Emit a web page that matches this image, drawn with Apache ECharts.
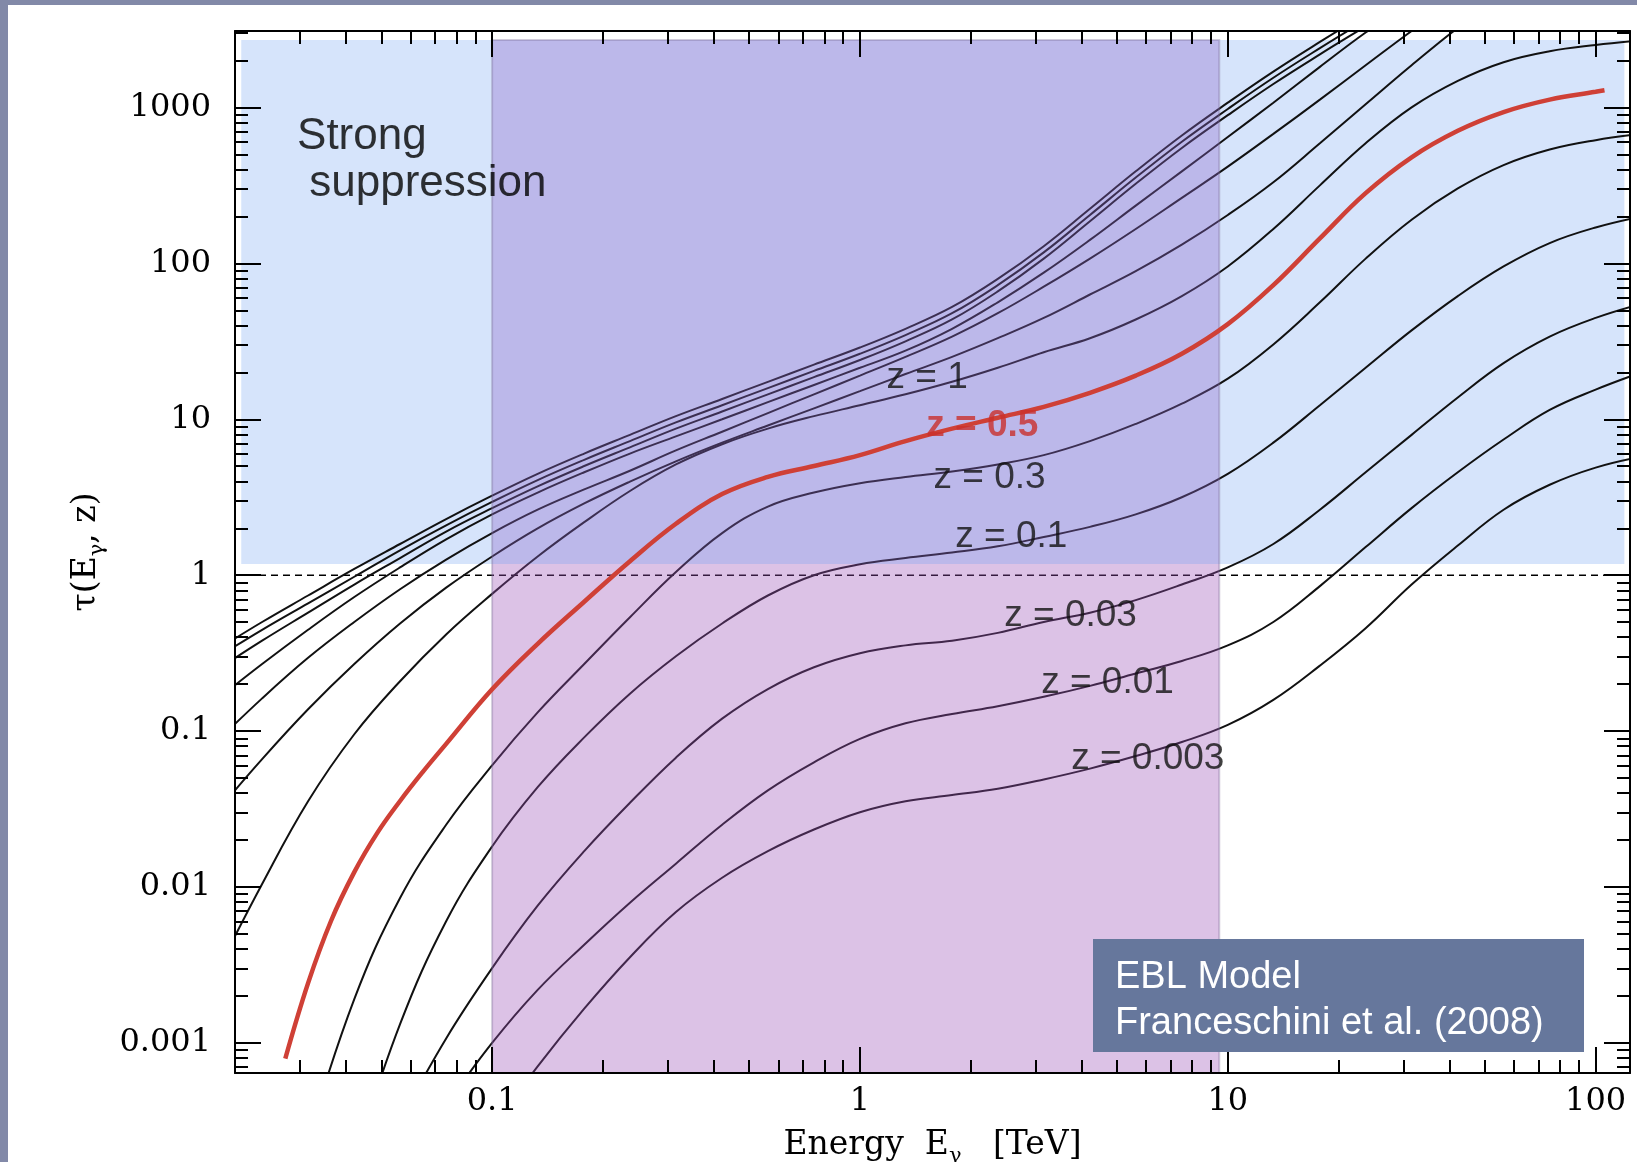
<!DOCTYPE html>
<html lang="en">
<head>
<meta charset="utf-8">
<title>Gamma-ray optical depth τ(E, z)</title>
<script src="https://cdn.jsdelivr.net/npm/echarts@6.0.0/dist/echarts.min.js"></script>
<style>
  html, body { margin: 0; padding: 0; width: 1637px; height: 1162px; overflow: hidden; background: #8289a8; }
  #chart { position: absolute; left: 8px; top: 5px; width: 1629px; height: 1157px; background: #ffffff; }
</style>
</head>
<body>
<div id="chart"></div>
<script>
// ---- axis ranges ----
const X_MIN = 0.02, X_MAX = 124;          // photon energy, TeV
const Y_MIN = 0.000642, Y_MAX = 3090;     // optical depth

// ---- tick labels ----
const xMajorTicks = [0.1, 1, 10, 100];
const yMajorTicks = [0.001, 0.01, 0.1, 1, 10, 100, 1000];

// ---- sampled photon energies (TeV) ----
const energy = [0.0178, 0.0237, 0.0316, 0.0422, 0.0562, 0.075, 0.1, 0.133, 0.178, 0.237, 0.316, 0.422, 0.562, 0.75,
                1, 1.33, 1.78, 2.37, 3.16, 4.22, 5.62, 7.5, 10, 13.3, 17.8, 23.7, 31.6, 42.2, 56.2, 75, 100, 133];

// ---- optical depth tau(E, z) for each source redshift (null = no point) ----
const tauZ0_003 = [null, null, null, null, null, null,
  0.000282, 0.000708, 0.00166, 0.00355, 0.00692, 0.01148, 0.017, 0.0234, 0.0302, 0.0355, 0.0389, 0.0427, 0.049, 0.0575,
  0.0692, 0.0851, 0.1096, 0.1585, 0.263, 0.457, 0.871, 1.549, 2.63, 3.802, 4.898, 5.754];
const tauZ0_01 = [null, null, null, null, null,
  0.000398, 0.001, 0.00219, 0.00427, 0.00794, 0.01413, 0.0251, 0.0417, 0.0631, 0.0891, 0.1122, 0.1288, 0.1445, 0.166,
  0.195, 0.2344, 0.2818, 0.3548, 0.501, 0.851, 1.514, 2.692, 4.571, 7.413, 11.48, 15.49, 19.95];
const tauZ0_03 = [null, null, null, null,
  0.000316, 0.00107, 0.00302, 0.00759, 0.017, 0.0347, 0.0676, 0.1202, 0.1862, 0.257, 0.3162, 0.3548, 0.38, 0.4266,
  0.501, 0.575, 0.692, 0.871, 1.122, 1.585, 2.63, 4.571, 7.943, 13.8, 22.91, 33.88, 44.67, 54.95];
const tauZ0_1 = [null, null, null,
  0.000178, 0.00132, 0.00603, 0.0182, 0.0437, 0.0912, 0.1738, 0.302, 0.49, 0.741, 1.0, 1.175, 1.288, 1.396, 1.531,
  1.758, 2.042, 2.455, 3.162, 4.467, 7.079, 12.3, 21.38, 37.15, 61.66, 95.5, 134.9, 169.8, 199.5];
const tauZ0_3 = [null, null,
  0.00024, 0.00191, 0.00851, 0.0251, 0.0603, 0.1318, 0.2692, 0.537, 1.047, 1.862, 2.754, 3.388, 3.89, 4.266, 4.624,
  5.129, 5.888, 7.244, 9.333, 12.59, 18.2, 30.2, 56.23, 107.2, 190.5, 302.0, 426.6, 537.0, 616.6, 676.1];
const tauZ0_7 = [0.00282, 0.01047, 0.0355, 0.0955, 0.209, 0.417, 0.759, 1.318, 2.188, 3.467, 5.129, 6.918, 8.71, 10.47,
  12.3, 14.45, 17.38, 21.38, 26.92, 33.11, 43.65, 61.66, 95.5, 166.0, 316.2, 588.8, 1000, 1479, 1950, 2291, 2512, 2692];
const tauZ1 = [0.0302, 0.0661, 0.138, 0.2692, 0.4898, 0.8318, 1.318, 1.995, 2.884, 3.981, 5.37, 7.079, 9.12, 11.75,
  15.14, 19.5, 25.12, 33.11, 44.67, 63.1, 89.13, 131.8, 204.2, 331.1, 588.8, 1047, 1862, 3236, 5248, null, null, null];
const tauZ1_5 = [0.0851, 0.1622, 0.2951, 0.501, 0.8128, 1.259, 1.862, 2.63, 3.548, 4.677, 6.31, 8.318, 10.96, 14.45,
  19.05, 25.12, 33.88, 47.86, 70.79, 107.2, 166.0, 263.0, 416.9, 676.1, 1122, 1862, 3090, 5012, null, null, null, null];
const tauZ2 = [0.1585, 0.2692, 0.4467, 0.7244, 1.122, 1.698, 2.455, 3.388, 4.571, 6.026, 7.762, 10.0, 12.88, 16.6,
  21.38, 27.54, 38.02, 56.23, 87.1, 141.3, 234.4, 389.0, 645.7, 1072, 1820, 3020, 4786, null, null, null, null, null];
const tauZ2_5 = [0.2455, 0.3802, 0.5754, 0.871, 1.288, 1.905, 2.692, 3.715, 5.012, 6.607, 8.71, 11.22, 14.45, 18.62,
  23.99, 31.62, 43.65, 66.07, 107.2, 186.2, 323.6, 549.5, 891.3, 1413, 2188, 3311, 5012, null, null, null, null, null];
const tauZ3 = [0.2951, 0.4467, 0.6607, 0.9772, 1.445, 2.089, 2.951, 4.074, 5.495, 7.244, 9.55, 12.3, 15.85, 20.42,
  26.3, 34.67, 47.86, 72.44, 117.5, 204.2, 354.8, 602.6, 977.2, 1549, 2399, 3631, 5495, null, null, null, null, null];
const tauZ4 = [0.3311, 0.501, 0.741, 1.096, 1.585, 2.291, 3.236, 4.467, 6.026, 7.943, 10.47, 13.49, 17.38, 22.39,
  28.84, 38.02, 52.48, 79.43, 128.8, 223.9, 389.0, 660.7, 1072, 1698, 2630, 3981, 6026, null, null, null, null, null];

// highlighted z = 0.5 curve, sampled on its own energies
const energyZ0_5 = [0.0274, 0.0316, 0.0365, 0.0422, 0.0487, 0.0562, 0.0649, 0.075, 0.1, 0.133, 0.178, 0.237, 0.316,
  0.422, 0.562, 0.75, 1, 1.33, 1.78, 2.37, 3.16, 4.22, 5.62, 7.5, 10, 13.3, 17.8, 23.7, 31.6, 42.2, 56.2, 75, 100, 105.7];
const tauZ0_5 = [0.000794, 0.00242, 0.00608, 0.01247, 0.02218, 0.03565, 0.055, 0.0828, 0.1854, 0.3631, 0.6761, 1.23,
  2.138, 3.311, 4.266, 5.012, 5.888, 7.244, 8.71, 10.23, 12.02, 14.79, 19.05, 26.3, 40.74, 72.44, 144.5, 281.8, 478.6,
  707.9, 933.3, 1122, 1259, 1288];

// tau = 1 reference level
const unitDepth = 1;

// shaded regions: [E from, E to, tau from, tau to]
const suppressionRegion = [0.0208, 119.7, 1.18, 2710];
const bandEnergy = [0.1, 9.48];

// curve annotations: [text, E, tau] (left edge, vertical centre)
const curveLabels = [
  ['z = 1', 1.177, 18.4],
  ['z = 0.5', 1.51, 9.06],
  ['z = 0.3', 1.58, 4.2],
  ['z = 0.1', 1.81, 1.76],
  ['z = 0.03', 2.46, 0.547],
  ['z = 0.01', 3.10, 0.204],
  ['z = 0.003', 3.74, 0.0662]
];
const regionLabel = ['Strong\n suppression', 0.0294, 457];

// ---------------------------------------------------------------
const SERIF = '"DejaVu Serif", serif';
const SANS = '"Liberation Sans", Arial, sans-serif';
const fmt = v => String(+(+v).toPrecision(3));

function minorTicks(lo, hi) {
  const out = [];
  for (let p = -4; p <= 3; p++) {
    for (let k = 2; k <= 9; k++) {
      const v = +(k * Math.pow(10, p)).toPrecision(3);
      if (v > lo && v < hi) out.push(v);
    }
  }
  return out;
}
const xMinorTicks = minorTicks(X_MIN, X_MAX);
const yMinorTicks = minorTicks(Y_MIN, Y_MAX);

function pairs(xs, ys) {
  const out = [];
  xs.forEach((x, i) => { if (ys[i] != null) out.push([x, ys[i]]); });
  return out;
}

const tickStyle = { color: '#000', width: 2 };
function axis(dim, position, major, showLine, extra) {
  const isX = dim === 'x';
  return Object.assign({
    type: 'log',
    logBase: 10,
    position: position,
    min: isX ? X_MIN : Y_MIN,
    max: isX ? X_MAX : Y_MAX,
    z: 6,
    silent: true,
    axisLine: { show: showLine, onZero: false, lineStyle: { color: '#000', width: 2 } },
    axisTick: {
      show: true, inside: true,
      length: major ? 26 : 13,
      customValues: major ? (isX ? xMajorTicks : yMajorTicks) : (isX ? xMinorTicks : yMinorTicks),
      lineStyle: tickStyle
    },
    minorTick: { show: false },
    axisLabel: { show: false },
    splitLine: { show: false },
    axisPointer: { show: false }
  }, extra || {});
}

const nameStyle = {
  color: '#000', fontFamily: SERIF, fontSize: 33, lineHeight: 44,
  rich: { sub: { color: '#000', fontFamily: SERIF, fontSize: 21, lineHeight: 21, verticalAlign: 'bottom' } }
};

const xAxes = [
  axis('x', 'bottom', true, true, {
    axisLabel: { show: true, customValues: xMajorTicks, formatter: fmt, margin: 13, color: '#000', fontFamily: SERIF, fontSize: 32 },
    name: 'Energy  E{sub|γ}   [TeV]',
    nameLocation: 'middle',
    nameGap: 50,
    nameTextStyle: nameStyle
  }),
  axis('x', 'bottom', false, false),
  axis('x', 'top', true, true),
  axis('x', 'top', false, false)
];
const yAxes = [
  axis('y', 'left', true, true, {
    axisLabel: { show: true, customValues: yMajorTicks, formatter: fmt, margin: 24, color: '#000', fontFamily: SERIF, fontSize: 32 },
    name: 'τ(E{sub|γ}, z)',
    nameLocation: 'middle',
    nameGap: 126,
    nameTextStyle: nameStyle
  }),
  axis('y', 'left', false, false),
  axis('y', 'right', true, true),
  axis('y', 'right', false, false)
];

function rectSeries(name, rect, style, z) {
  return {
    type: 'custom', name: name, xAxisIndex: 0, yAxisIndex: 0, z: z, silent: true,
    animation: false,
    data: [rect],
    encode: { x: [0, 1], y: [2, 3] },
    renderItem: function (params, api) {
      const a = api.coord([api.value(0), api.value(3)]);
      const b = api.coord([api.value(1), api.value(2)]);
      return {
        type: 'rect',
        shape: { x: a[0], y: a[1], width: b[0] - a[0], height: b[1] - a[1] },
        style: style
      };
    }
  };
}

function curve(name, xs, ys, color, width, z) {
  return {
    type: 'line', name: name, xAxisIndex: 0, yAxisIndex: 0, z: z,
    data: pairs(xs, ys),
    symbol: 'none', showSymbol: false,
    smooth: 0.4,
    clip: true,
    silent: true,
    animation: false,
    lineStyle: { color: color, width: width }
  };
}

const blackCurves = [
  ['z=0.003', tauZ0_003], ['z=0.01', tauZ0_01], ['z=0.03', tauZ0_03], ['z=0.1', tauZ0_1],
  ['z=0.3', tauZ0_3], ['z=0.7', tauZ0_7], ['z=1', tauZ1], ['z=1.5', tauZ1_5],
  ['z=2', tauZ2], ['z=2.5', tauZ2_5], ['z=3', tauZ3], ['z=4', tauZ4]
];

const series = [];
// light-blue "strong suppression" region (beneath the curves)
series.push(rectSeries('suppression', suppressionRegion, { fill: '#d6e4fb' }, 1));
// tau = 1 level
series.push({
  type: 'line', name: 'tau=1', xAxisIndex: 0, yAxisIndex: 0, z: 2, silent: true, animation: false,
  data: [[X_MIN, unitDepth], [X_MAX, unitDepth]],
  symbol: 'none', showSymbol: false,
  lineStyle: { color: '#000', width: 1.6, type: [7, 5] }
});
blackCurves.forEach(([n, t]) => series.push(curve(n, energy, t, '#111', 2, 2)));
// translucent energy band drawn over the black curves
series.push(rectSeries('band-low', [bandEnergy[0], bandEnergy[1], Y_MIN, suppressionRegion[2]], { fill: 'rgba(155,81,184,0.35)' }, 3));
series.push(rectSeries('band-high', [bandEnergy[0], bandEnergy[1], suppressionRegion[2], suppressionRegion[3]], { fill: 'rgba(140,102,202,0.35)' }, 3));
series.push(rectSeries('band-edge', [bandEnergy[0], bandEnergy[1], Y_MIN, suppressionRegion[3]], { fill: 'none', stroke: 'rgba(120,105,150,0.35)', lineWidth: 2 }, 3));
// highlighted z = 0.5 curve
series.push(curve('z=0.5', energyZ0_5, tauZ0_5, '#cf4036', 4.5, 4));
// curve annotations
series.push({
  type: 'scatter', name: 'curve labels', xAxisIndex: 0, yAxisIndex: 0, z: 5, silent: true, animation: false,
  symbol: 'circle', symbolSize: 1, itemStyle: { color: 'rgba(0,0,0,0)' },
  data: curveLabels.map(([text, e, t]) => ({
    value: [e, t], name: text,
    label: text === 'z = 0.5' ? { color: '#c9302c', fontWeight: 'bold' } : {}
  })),
  label: { show: true, position: 'right', distance: 0, formatter: p => p.name, color: '#111', fontFamily: SANS, fontSize: 37 }
});
series.push({
  type: 'scatter', name: 'region label', xAxisIndex: 0, yAxisIndex: 0, z: 5, silent: true, animation: false,
  symbol: 'circle', symbolSize: 1, itemStyle: { color: 'rgba(0,0,0,0)' },
  data: [{ value: [regionLabel[1], regionLabel[2]], name: regionLabel[0] }],
  label: { show: true, position: 'right', distance: 0, formatter: p => p.name, color: '#000', fontFamily: SANS, fontSize: 44, lineHeight: 47 }
});

const chart = echarts.init(document.getElementById('chart'), null, { renderer: 'canvas', width: 1629, height: 1157 });
chart.setOption({
  animation: false,
  backgroundColor: '#ffffff',
  grid: { left: 227, right: 7, top: 26, bottom: 89, containLabel: false, outerBoundsMode: 'none', show: false },
  xAxis: xAxes,
  yAxis: yAxes,
  tooltip: { show: false },
  series: series,
  graphic: [{
    type: 'group', left: 1085, top: 934, silent: true, z: 100, zlevel: 1,
    children: [
      { type: 'rect', z: 100, zlevel: 1, shape: { x: 0, y: 0, width: 491, height: 113 }, style: { fill: '#66779c' } },
      { type: 'text', z: 101, zlevel: 1, x: 22, y: 62,
        style: { text: 'EBL Model\nFranceschini et al. (2008)', fill: '#ffffff', fontFamily: SANS, fontSize: 38, lineHeight: 46, verticalAlign: 'middle', align: 'left' } }
    ]
  }]
});
</script>
</body>
</html>
